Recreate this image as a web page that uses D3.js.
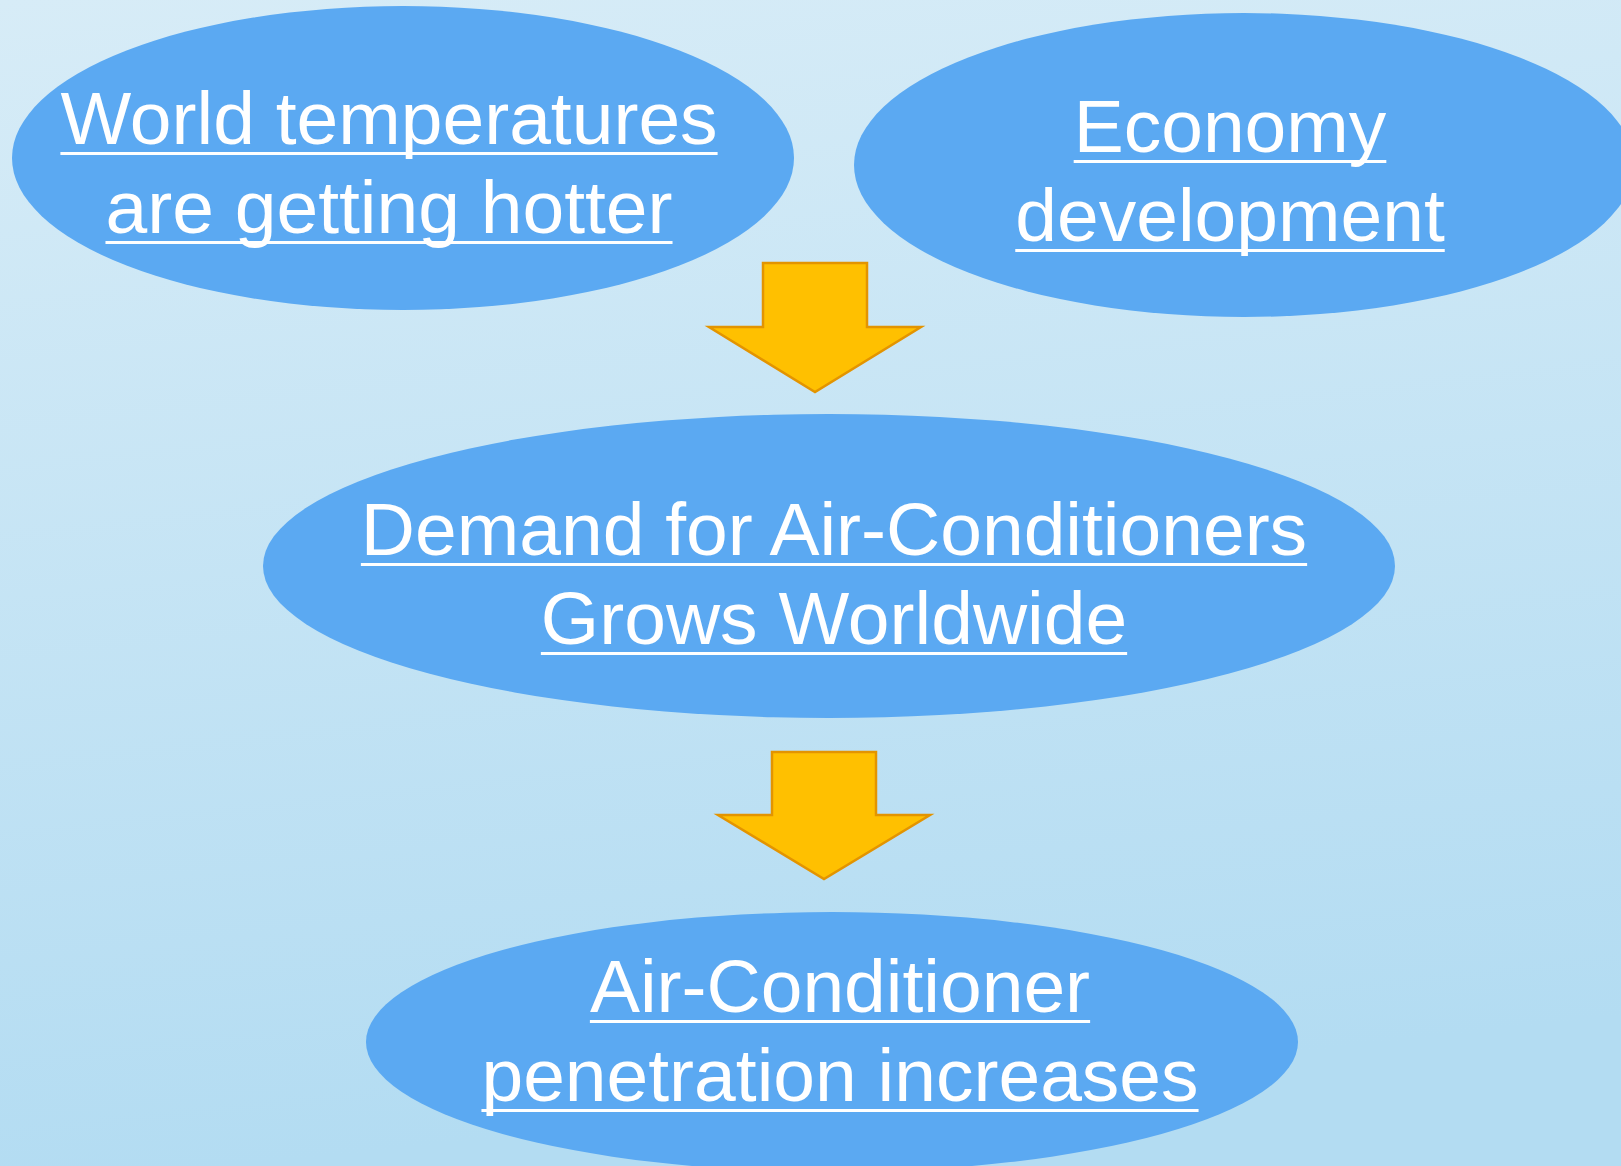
<!DOCTYPE html>
<html>
<head>
<meta charset="utf-8">
<script src="https://cdn.jsdelivr.net/npm/d3@7"></script>
<style>
    html, body { margin: 0; padding: 0; overflow: hidden; }
    svg { display: block; }
    .label { font-family: "Liberation Sans", Arial, sans-serif; fill: #ffffff; }
</style>
</head>
<body>
<svg id="canvas"></svg>
<script>

// Node labels (one entry per ellipse, one string per line)
const nodeIds = ["temperature", "economy", "demand", "penetration"];
const nodeLines = [
    ["World temperatures", "are getting hotter"],
    ["Economy", "development"],
    ["Demand for Air-Conditioners", "Grows Worldwide"],
    ["Air-Conditioner", "penetration increases"]
];

// Arrows run between these nodes
const arrowLinks = [
    ["temperature", "demand"],
    ["demand", "penetration"]
];

const width = 1621,
      height = 1166;

// Layout of each ellipse and its text block
const layout = {
    temperature: { cx: 403,  cy: 158,  rx: 391, ry: 152, tx: 389, ty: 144 },
    economy:     { cx: 1244, cy: 165,  rx: 390, ry: 152, tx: 1230, ty: 152 },
    demand:      { cx: 829,  cy: 566,  rx: 566, ry: 152, tx: 834, ty: 555 },
    penetration: { cx: 832,  cy: 1042, rx: 466, ry: 130, tx: 840, ty: 1012 }
};

// Arrow geometry, keyed by the arrow's index
const arrowLayout = [
    { x: 815, top: 263, shoulder: 327, tip: 392, shaft: 52, head: 106 },
    { x: 824, top: 752, shoulder: 815, tip: 879, shaft: 52, head: 106 }
];

const fontSize = 75,
      lineGap = 89;

const svg = d3.select("#canvas")
    .attr("width", width)
    .attr("height", height);

// Background gradient
const defs = svg.append("defs");
const grad = defs.append("linearGradient")
    .attr("id", "bg")
    .attr("x1", "0").attr("y1", "0")
    .attr("x2", "0.15").attr("y2", "1");
grad.append("stop").attr("offset", "0%").attr("stop-color", "#d7ecf7");
grad.append("stop").attr("offset", "100%").attr("stop-color", "#b3dcf2");

svg.append("rect")
    .attr("width", width)
    .attr("height", height)
    .attr("fill", "url(#bg)");

// Ellipses
const nodes = nodeIds.map((id, i) => ({ id: id, lines: nodeLines[i], pos: layout[id] }));

const nodeGroups = svg.append("g")
    .attr("id", "nodes")
    .selectAll("g")
    .data(nodes)
    .enter()
    .append("g")
    .attr("id", (d) => d.id);

nodeGroups.append("ellipse")
    .attr("cx", (d) => d.pos.cx)
    .attr("cy", (d) => d.pos.cy)
    .attr("rx", (d) => d.pos.rx)
    .attr("ry", (d) => d.pos.ry)
    .attr("fill", "#5ba9f2");

// Labels with underlines
nodeGroups.each(function (d) {
    const g = d3.select(this);
    d.lines.forEach((line, j) => {
        const y = d.pos.ty + j * lineGap;
        const text = g.append("text")
            .classed("label", true)
            .attr("x", d.pos.tx)
            .attr("y", y)
            .attr("text-anchor", "middle")
            .style("font-size", fontSize + "px")
            .text(line);
        const w = text.node().getComputedTextLength();
        g.append("rect")
            .attr("x", d.pos.tx - w / 2)
            .attr("y", y + 8)
            .attr("width", w)
            .attr("height", 3)
            .attr("fill", "#ffffff");
    });
});

// Arrows
svg.append("g")
    .attr("id", "arrows")
    .selectAll("path")
    .data(arrowLinks)
    .enter()
    .append("path")
    .attr("d", (d, i) => {
        const a = arrowLayout[i];
        const p = d3.path();
        p.moveTo(a.x - a.shaft, a.top);
        p.lineTo(a.x + a.shaft, a.top);
        p.lineTo(a.x + a.shaft, a.shoulder);
        p.lineTo(a.x + a.head, a.shoulder);
        p.lineTo(a.x, a.tip);
        p.lineTo(a.x - a.head, a.shoulder);
        p.lineTo(a.x - a.shaft, a.shoulder);
        p.closePath();
        return p.toString();
    })
    .attr("fill", "#ffc000")
    .attr("stroke", "#e39400")
    .attr("stroke-width", 2.5)
    .attr("stroke-linejoin", "miter");

</script>
</body>
</html>
